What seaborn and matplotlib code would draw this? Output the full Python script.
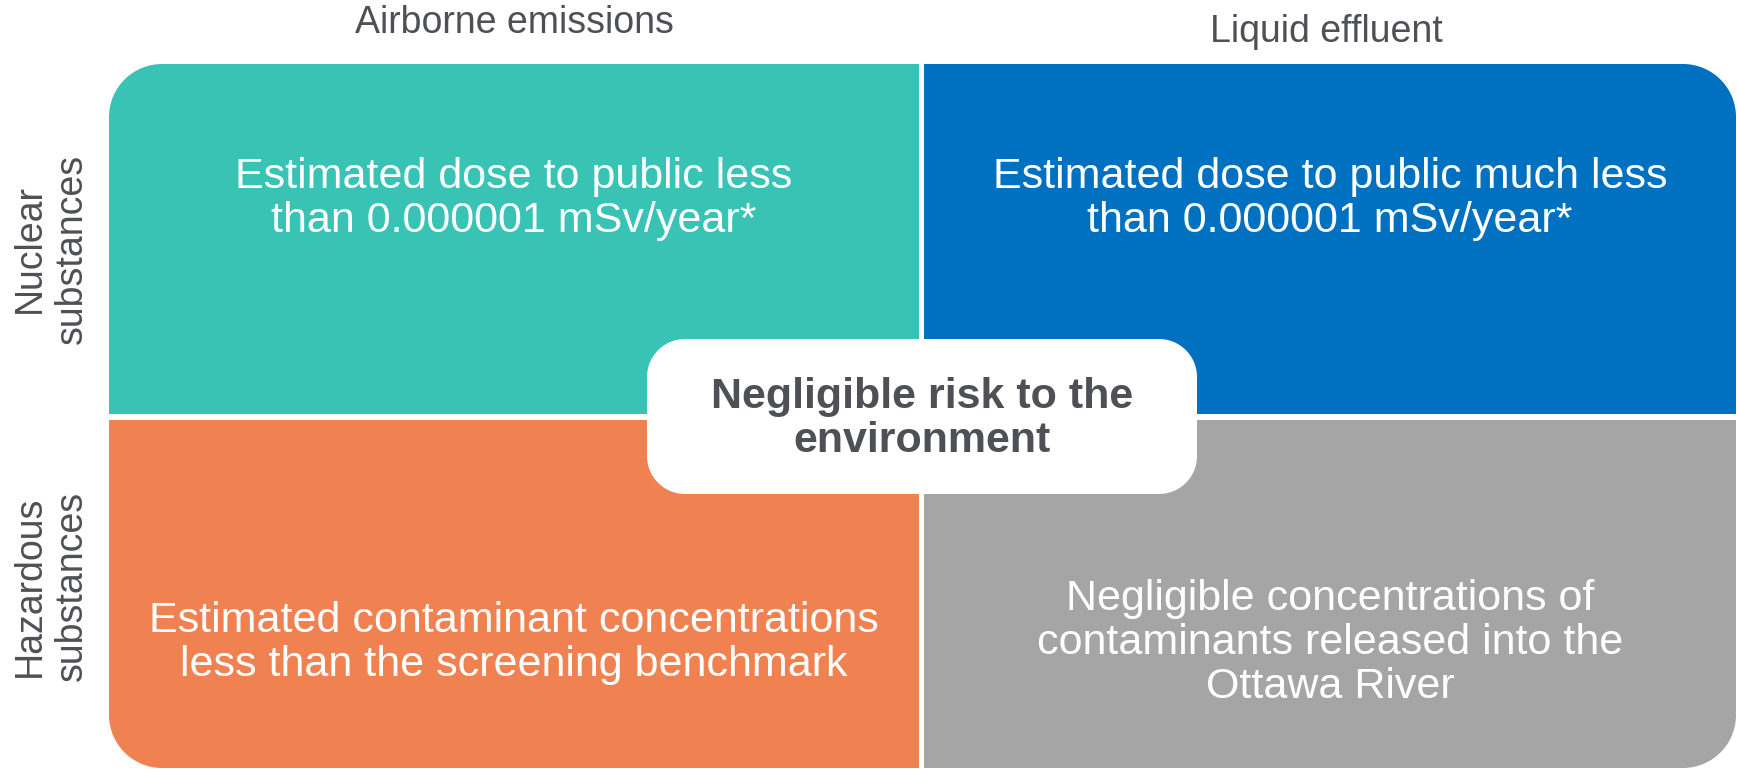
import numpy as np
import seaborn as sns
import matplotlib.pyplot as plt
from matplotlib.patches import Polygon

# column / row headings
col_labels = ["Airborne emissions", "Liquid effluent"]
row_labels = ["Nuclear\nsubstances", "Hazardous\nsubstances"]

# text in each quadrant (row by row)
cell_text = [
    ["Estimated dose to public less\nthan 0.000001 mSv/year*",
     "Estimated dose to public much less\nthan 0.000001 mSv/year*"],
    ["Estimated contaminant concentrations\nless than the screening benchmark",
     "Negligible concentrations of\ncontaminants released into the\nOttawa River"],
]
center_text = "Negligible risk to the\nenvironment"

# quadrant colours: teal, blue, orange, grey
cell_colors = sns.color_palette(["#38C3B5", "#0071C1", "#F08251", "#A5A5A5"])

W, H = 1738, 770
text_grey = "#4F5055"


def box_points(x0, y0, x1, y1, r, rounded):
    # y axis points down, corners go clockwise from top-left
    spec = [("tl", x0 + r, y0 + r, 180, 270, x0, y0),
            ("tr", x1 - r, y0 + r, 270, 360, x1, y0),
            ("br", x1 - r, y1 - r, 0, 90, x1, y1),
            ("bl", x0 + r, y1 - r, 90, 180, x0, y1)]
    pts = []
    for name, cx, cy, a0, a1, px, py in spec:
        if name in rounded:
            t = np.radians(np.linspace(a0, a1, 30))
            pts.extend(zip(cx + r * np.cos(t), cy + r * np.sin(t)))
        else:
            pts.append((px, py))
    return pts


sns.set_theme(style="white")
plt.rcParams["font.family"] = ["Liberation Sans", "DejaVu Sans"]

fig = plt.figure(figsize=(W / 100, H / 100), dpi=100)
ax = fig.add_axes([0, 0, 1, 1])
ax.set_xlim(0, W)
ax.set_ylim(H, 0)
ax.axis("off")

# quadrant layout
col_x = [(109, 919), (924, 1736)]
row_y = [(64, 414), (420, 768)]
outer_corner = [["tl", "tr"], ["bl", "br"]]
text_x = [514, 1330]
text_y = [199, 643]

for i in range(2):
    for j in range(2):
        x0, x1 = col_x[j]
        y0, y1 = row_y[i]
        pts = box_points(x0, y0, x1, y1, 53, [outer_corner[i][j]])
        ax.add_patch(Polygon(pts, closed=True, facecolor=cell_colors[i * 2 + j],
                             edgecolor="none"))
        ax.text(text_x[j], text_y[i], cell_text[i][j], color="white",
                fontsize=31, ha="center", va="center", linespacing=1.12)

# centre box
pts = box_points(647, 339, 1197, 494, 38, ["tl", "tr", "br", "bl"])
ax.add_patch(Polygon(pts, closed=True, facecolor="white", edgecolor="none"))
ax.text(922, 419, center_text, color=text_grey, fontsize=31, fontweight="bold",
        ha="center", va="center", linespacing=1.15)

# headings
ax.text(514, 33, col_labels[0], color=text_grey, fontsize=27, ha="center", va="baseline")
ax.text(1326, 42, col_labels[1], color=text_grey, fontsize=27, ha="center", va="baseline")
ax.text(51, 249, row_labels[0], color=text_grey, fontsize=27, rotation=90,
        ha="center", va="center", linespacing=1.2)
ax.text(51, 586, row_labels[1], color=text_grey, fontsize=27, rotation=90,
        ha="center", va="center", linespacing=1.2)

fig.savefig("out.png", dpi=100)
